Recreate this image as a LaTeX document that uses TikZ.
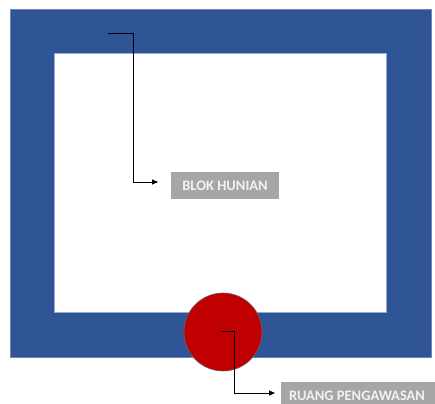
\documentclass[tikz,border=0pt]{standalone}
\usepackage{fontspec}
\setmainfont{Carlito}
\usetikzlibrary{arrows.meta}
\definecolor{wallblue}{HTML}{2F5597}
\definecolor{roomred}{HTML}{C00000}
\definecolor{labelgray}{HTML}{A6A6A6}
\definecolor{labeltext}{HTML}{F2F2F2}
\tikzset{
  lblfont/.style={text=labeltext, font=\bfseries\fontsize{14.5}{16}\selectfont, inner sep=0pt},
  lblbox/.style={fill=labelgray, draw=none},
  callout/.style={draw=black, line width=0.9pt, -{Triangle[length=6pt,width=5pt]}},
}
\begin{document}
\begin{tikzpicture}[x=1pt,y=-1pt]
\useasboundingbox (0,0) rectangle (435,403);
\clip (0,0) rectangle (435,403);
% outer blue building
\fill[wallblue, draw=wallblue!70!white, line width=0.5pt] (10,9) rectangle (431,357);
% inner white courtyard
\fill[white, draw=wallblue!50!white, line width=0.5pt] (54,53) rectangle (386,312);
% surveillance room
\node[circle, fill=roomred, draw=black!60, line width=0.6pt, minimum size=78pt, inner sep=0pt] (room) at (223,332) {};
% labels
\fill[lblbox] (171,172) rectangle (279,199);
\node[lblfont, anchor=center] (blok) at (225,185.5) {BLOK HUNIAN};
\fill[lblbox] (281,382) rectangle (440,410);
\node[lblfont, anchor=base west] (ruang) at (289,400.5) {RUANG PENGAWASAN};
% callouts
\coordinate (s1) at (108,33);
\coordinate (e1) at (158,182);
\draw[callout] (s1) -- (133,33) -- (133,182) -- (e1);
\coordinate (s2) at (221,331);
\coordinate (e2) at (275,393);
\draw[callout] (s2) -- (234,331) -- (234,393) -- (e2);
\end{tikzpicture}
\end{document}
